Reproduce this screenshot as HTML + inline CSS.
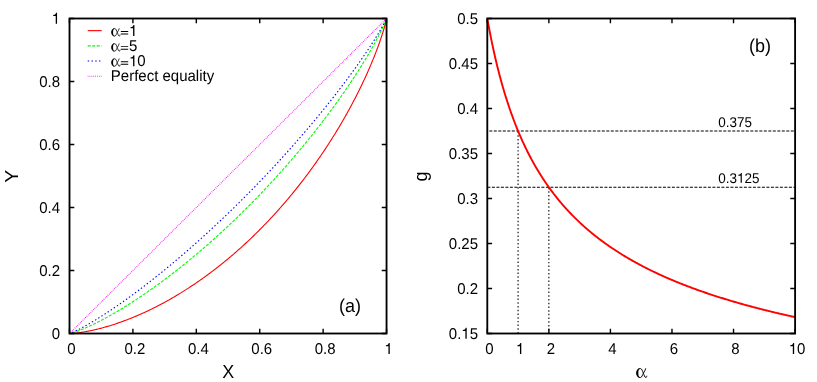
<!DOCTYPE html>
<html><head><meta charset="utf-8"><title>chart</title>
<style>
html,body{margin:0;padding:0;background:#fff;}
svg{display:block;will-change:transform;}
text{font-family:"Liberation Sans",sans-serif;fill:#000;text-rendering:geometricPrecision;}
.t{font-size:15.0px;}
.s{font-size:12.2px;}
.l{font-size:17.6px;}
.sy{font-family:"Liberation Serif",serif;}
</style></head><body>
<svg width="817" height="382" viewBox="0 0 817 382">
<rect width="817" height="382" fill="#fff"/>

<path d="M69.50,333.50 L70.29,333.48 L71.09,333.45 L71.88,333.40 L72.67,333.35 L73.46,333.28 L74.26,333.21 L75.05,333.14 L75.84,333.06 L76.63,332.97 L77.43,332.88 L78.22,332.78 L79.01,332.68 L79.80,332.57 L80.60,332.46 L81.39,332.34 L82.18,332.22 L82.97,332.09 L83.77,331.96 L84.56,331.83 L85.35,331.69 L86.15,331.55 L86.94,331.40 L87.73,331.25 L88.52,331.10 L89.32,330.94 L90.11,330.78 L90.90,330.62 L91.69,330.45 L92.49,330.28 L93.28,330.10 L94.07,329.93 L94.86,329.74 L95.66,329.56 L96.45,329.37 L97.24,329.18 L98.03,328.98 L98.83,328.79 L99.62,328.58 L100.41,328.38 L101.20,328.17 L102.00,327.96 L102.79,327.75 L103.58,327.53 L104.38,327.31 L105.17,327.09 L105.96,326.86 L106.75,326.63 L107.55,326.40 L108.34,326.16 L109.13,325.92 L109.92,325.68 L110.72,325.44 L111.51,325.19 L112.30,324.94 L113.09,324.69 L113.89,324.43 L114.68,324.17 L115.47,323.91 L116.26,323.65 L117.06,323.38 L117.85,323.11 L118.64,322.83 L119.44,322.56 L120.23,322.28 L121.02,322.00 L121.81,321.71 L122.61,321.43 L123.40,321.14 L124.19,320.84 L124.98,320.55 L125.78,320.25 L126.57,319.95 L127.36,319.64 L128.15,319.34 L128.95,319.03 L129.74,318.71 L130.53,318.40 L131.32,318.08 L132.12,317.76 L132.91,317.44 L133.70,317.11 L134.50,316.78 L135.29,316.45 L136.08,316.12 L136.87,315.78 L137.67,315.44 L138.46,315.10 L139.25,314.75 L140.04,314.41 L140.84,314.06 L141.63,313.70 L142.42,313.35 L143.21,312.99 L144.01,312.63 L144.80,312.26 L145.59,311.90 L146.38,311.53 L147.18,311.16 L147.97,310.78 L148.76,310.40 L149.56,310.02 L150.35,309.64 L151.14,309.26 L151.93,308.87 L152.73,308.48 L153.52,308.09 L154.31,307.69 L155.10,307.29 L155.90,306.89 L156.69,306.49 L157.48,306.08 L158.27,305.67 L159.07,305.26 L159.86,304.84 L160.65,304.43 L161.44,304.01 L162.24,303.58 L163.03,303.16 L163.82,302.73 L164.62,302.30 L165.41,301.87 L166.20,301.43 L166.99,300.99 L167.79,300.55 L168.58,300.11 L169.37,299.66 L170.16,299.21 L170.96,298.76 L171.75,298.30 L172.54,297.84 L173.33,297.38 L174.13,296.92 L174.92,296.45 L175.71,295.99 L176.50,295.51 L177.30,295.04 L178.09,294.56 L178.88,294.08 L179.67,293.60 L180.47,293.12 L181.26,292.63 L182.05,292.14 L182.85,291.65 L183.64,291.15 L184.43,290.65 L185.22,290.15 L186.02,289.65 L186.81,289.14 L187.60,288.63 L188.39,288.12 L189.19,287.60 L189.98,287.08 L190.77,286.56 L191.56,286.04 L192.36,285.51 L193.15,284.98 L193.94,284.45 L194.73,283.92 L195.53,283.38 L196.32,282.84 L197.11,282.29 L197.91,281.75 L198.70,281.20 L199.49,280.65 L200.28,280.09 L201.08,279.53 L201.87,278.97 L202.66,278.41 L203.45,277.84 L204.25,277.28 L205.04,276.70 L205.83,276.13 L206.62,275.55 L207.42,274.97 L208.21,274.39 L209.00,273.80 L209.79,273.21 L210.59,272.62 L211.38,272.02 L212.17,271.42 L212.97,270.82 L213.76,270.22 L214.55,269.61 L215.34,269.00 L216.14,268.39 L216.93,267.77 L217.72,267.15 L218.51,266.53 L219.31,265.90 L220.10,265.28 L220.89,264.64 L221.68,264.01 L222.48,263.37 L223.27,262.73 L224.06,262.09 L224.85,261.44 L225.65,260.79 L226.44,260.14 L227.23,259.48 L228.03,258.82 L228.82,258.16 L229.61,257.49 L230.40,256.83 L231.20,256.15 L231.99,255.48 L232.78,254.80 L233.57,254.12 L234.37,253.43 L235.16,252.75 L235.95,252.05 L236.74,251.36 L237.54,250.66 L238.33,249.96 L239.12,249.26 L239.91,248.55 L240.71,247.84 L241.50,247.13 L242.29,246.41 L243.08,245.69 L243.88,244.96 L244.67,244.23 L245.46,243.50 L246.26,242.77 L247.05,242.03 L247.84,241.29 L248.63,240.55 L249.43,239.80 L250.22,239.05 L251.01,238.29 L251.80,237.53 L252.60,236.77 L253.39,236.00 L254.18,235.24 L254.97,234.46 L255.77,233.69 L256.56,232.91 L257.35,232.12 L258.14,231.34 L258.94,230.55 L259.73,229.75 L260.52,228.95 L261.32,228.15 L262.11,227.35 L262.90,226.54 L263.69,225.72 L264.49,224.91 L265.28,224.09 L266.07,223.26 L266.86,222.43 L267.66,221.60 L268.45,220.77 L269.24,219.93 L270.03,219.08 L270.83,218.23 L271.62,217.38 L272.41,216.53 L273.20,215.67 L274.00,214.80 L274.79,213.94 L275.58,213.06 L276.38,212.19 L277.17,211.31 L277.96,210.43 L278.75,209.54 L279.55,208.64 L280.34,207.75 L281.13,206.85 L281.92,205.94 L282.72,205.03 L283.51,204.12 L284.30,203.20 L285.09,202.28 L285.89,201.35 L286.68,200.42 L287.47,199.49 L288.26,198.55 L289.06,197.60 L289.85,196.65 L290.64,195.70 L291.44,194.74 L292.23,193.78 L293.02,192.81 L293.81,191.84 L294.61,190.86 L295.40,189.88 L296.19,188.89 L296.98,187.90 L297.78,186.91 L298.57,185.91 L299.36,184.90 L300.15,183.89 L300.95,182.87 L301.74,181.85 L302.53,180.83 L303.32,179.80 L304.12,178.76 L304.91,177.72 L305.70,176.67 L306.49,175.62 L307.29,174.56 L308.08,173.50 L308.87,172.43 L309.67,171.36 L310.46,170.28 L311.25,169.19 L312.04,168.10 L312.84,167.00 L313.63,165.90 L314.42,164.79 L315.21,163.68 L316.01,162.56 L316.80,161.43 L317.59,160.30 L318.38,159.17 L319.18,158.02 L319.97,156.87 L320.76,155.71 L321.55,154.55 L322.35,153.38 L323.14,152.21 L323.93,151.02 L324.73,149.84 L325.52,148.64 L326.31,147.44 L327.10,146.23 L327.90,145.01 L328.69,143.79 L329.48,142.56 L330.27,141.32 L331.07,140.08 L331.86,138.82 L332.65,137.56 L333.44,136.30 L334.24,135.02 L335.03,133.74 L335.82,132.45 L336.61,131.15 L337.41,129.84 L338.20,128.53 L338.99,127.20 L339.79,125.87 L340.58,124.53 L341.37,123.18 L342.16,121.82 L342.96,120.45 L343.75,119.08 L344.54,117.69 L345.33,116.29 L346.13,114.89 L346.92,113.47 L347.71,112.05 L348.50,110.61 L349.30,109.17 L350.09,107.71 L350.88,106.24 L351.67,104.76 L352.47,103.27 L353.26,101.77 L354.05,100.26 L354.85,98.73 L355.64,97.20 L356.43,95.65 L357.22,94.08 L358.02,92.51 L358.81,90.92 L359.60,89.31 L360.39,87.69 L361.19,86.06 L361.98,84.41 L362.77,82.74 L363.56,81.06 L364.36,79.37 L365.15,77.65 L365.94,75.92 L366.73,74.17 L367.53,72.40 L368.32,70.61 L369.11,68.79 L369.90,66.96 L370.70,65.10 L371.49,63.22 L372.28,61.32 L373.08,59.39 L373.87,57.43 L374.66,55.44 L375.45,53.42 L376.25,51.37 L377.04,49.28 L377.83,47.15 L378.62,44.98 L379.42,42.76 L380.21,40.49 L381.00,38.16 L381.79,35.77 L382.59,33.30 L383.38,30.74 L384.17,28.06 L384.96,25.23 L385.76,22.17 L386.55,18.50" fill="none" stroke="#f00" stroke-width="1.1"/>
<path d="M69.50,333.50 L70.29,333.35 L71.09,333.16 L71.88,332.95 L72.67,332.73 L73.46,332.49 L74.26,332.23 L75.05,331.97 L75.84,331.70 L76.63,331.42 L77.43,331.14 L78.22,330.85 L79.01,330.55 L79.80,330.24 L80.60,329.93 L81.39,329.62 L82.18,329.29 L82.97,328.97 L83.77,328.64 L84.56,328.30 L85.35,327.96 L86.15,327.61 L86.94,327.27 L87.73,326.91 L88.52,326.55 L89.32,326.19 L90.11,325.83 L90.90,325.46 L91.69,325.08 L92.49,324.71 L93.28,324.33 L94.07,323.94 L94.86,323.56 L95.66,323.17 L96.45,322.77 L97.24,322.38 L98.03,321.98 L98.83,321.57 L99.62,321.17 L100.41,320.76 L101.20,320.35 L102.00,319.93 L102.79,319.51 L103.58,319.09 L104.38,318.67 L105.17,318.24 L105.96,317.81 L106.75,317.38 L107.55,316.95 L108.34,316.51 L109.13,316.07 L109.92,315.62 L110.72,315.18 L111.51,314.73 L112.30,314.28 L113.09,313.83 L113.89,313.37 L114.68,312.91 L115.47,312.45 L116.26,311.99 L117.06,311.52 L117.85,311.06 L118.64,310.59 L119.44,310.11 L120.23,309.64 L121.02,309.16 L121.81,308.68 L122.61,308.20 L123.40,307.71 L124.19,307.23 L124.98,306.74 L125.78,306.25 L126.57,305.75 L127.36,305.26 L128.15,304.76 L128.95,304.26 L129.74,303.75 L130.53,303.25 L131.32,302.74 L132.12,302.23 L132.91,301.72 L133.70,301.21 L134.50,300.69 L135.29,300.18 L136.08,299.66 L136.87,299.13 L137.67,298.61 L138.46,298.08 L139.25,297.56 L140.04,297.03 L140.84,296.49 L141.63,295.96 L142.42,295.42 L143.21,294.88 L144.01,294.34 L144.80,293.80 L145.59,293.26 L146.38,292.71 L147.18,292.16 L147.97,291.61 L148.76,291.06 L149.56,290.50 L150.35,289.95 L151.14,289.39 L151.93,288.83 L152.73,288.26 L153.52,287.70 L154.31,287.13 L155.10,286.56 L155.90,285.99 L156.69,285.42 L157.48,284.85 L158.27,284.27 L159.07,283.69 L159.86,283.11 L160.65,282.53 L161.44,281.94 L162.24,281.36 L163.03,280.77 L163.82,280.18 L164.62,279.59 L165.41,278.99 L166.20,278.40 L166.99,277.80 L167.79,277.20 L168.58,276.60 L169.37,276.00 L170.16,275.39 L170.96,274.78 L171.75,274.17 L172.54,273.56 L173.33,272.95 L174.13,272.34 L174.92,271.72 L175.71,271.10 L176.50,270.48 L177.30,269.86 L178.09,269.23 L178.88,268.61 L179.67,267.98 L180.47,267.35 L181.26,266.72 L182.05,266.08 L182.85,265.45 L183.64,264.81 L184.43,264.17 L185.22,263.53 L186.02,262.89 L186.81,262.24 L187.60,261.60 L188.39,260.95 L189.19,260.30 L189.98,259.65 L190.77,258.99 L191.56,258.34 L192.36,257.68 L193.15,257.02 L193.94,256.36 L194.73,255.69 L195.53,255.03 L196.32,254.36 L197.11,253.69 L197.91,253.02 L198.70,252.35 L199.49,251.67 L200.28,251.00 L201.08,250.32 L201.87,249.64 L202.66,248.95 L203.45,248.27 L204.25,247.58 L205.04,246.90 L205.83,246.21 L206.62,245.52 L207.42,244.82 L208.21,244.13 L209.00,243.43 L209.79,242.73 L210.59,242.03 L211.38,241.33 L212.17,240.62 L212.97,239.91 L213.76,239.21 L214.55,238.49 L215.34,237.78 L216.14,237.07 L216.93,236.35 L217.72,235.63 L218.51,234.91 L219.31,234.19 L220.10,233.47 L220.89,232.74 L221.68,232.01 L222.48,231.28 L223.27,230.55 L224.06,229.82 L224.85,229.08 L225.65,228.35 L226.44,227.61 L227.23,226.87 L228.03,226.12 L228.82,225.38 L229.61,224.63 L230.40,223.88 L231.20,223.13 L231.99,222.38 L232.78,221.62 L233.57,220.86 L234.37,220.11 L235.16,219.35 L235.95,218.58 L236.74,217.82 L237.54,217.05 L238.33,216.28 L239.12,215.51 L239.91,214.74 L240.71,213.96 L241.50,213.19 L242.29,212.41 L243.08,211.63 L243.88,210.84 L244.67,210.06 L245.46,209.27 L246.26,208.48 L247.05,207.69 L247.84,206.90 L248.63,206.10 L249.43,205.31 L250.22,204.51 L251.01,203.70 L251.80,202.90 L252.60,202.10 L253.39,201.29 L254.18,200.48 L254.97,199.67 L255.77,198.85 L256.56,198.04 L257.35,197.22 L258.14,196.40 L258.94,195.57 L259.73,194.75 L260.52,193.92 L261.32,193.09 L262.11,192.26 L262.90,191.43 L263.69,190.59 L264.49,189.76 L265.28,188.92 L266.07,188.07 L266.86,187.23 L267.66,186.38 L268.45,185.53 L269.24,184.68 L270.03,183.83 L270.83,182.97 L271.62,182.12 L272.41,181.25 L273.20,180.39 L274.00,179.53 L274.79,178.66 L275.58,177.79 L276.38,176.92 L277.17,176.05 L277.96,175.17 L278.75,174.29 L279.55,173.41 L280.34,172.53 L281.13,171.64 L281.92,170.75 L282.72,169.86 L283.51,168.97 L284.30,168.07 L285.09,167.17 L285.89,166.27 L286.68,165.37 L287.47,164.46 L288.26,163.56 L289.06,162.65 L289.85,161.73 L290.64,160.82 L291.44,159.90 L292.23,158.98 L293.02,158.05 L293.81,157.13 L294.61,156.20 L295.40,155.27 L296.19,154.33 L296.98,153.40 L297.78,152.46 L298.57,151.52 L299.36,150.57 L300.15,149.63 L300.95,148.68 L301.74,147.72 L302.53,146.77 L303.32,145.81 L304.12,144.85 L304.91,143.88 L305.70,142.92 L306.49,141.95 L307.29,140.97 L308.08,140.00 L308.87,139.02 L309.67,138.04 L310.46,137.05 L311.25,136.07 L312.04,135.07 L312.84,134.08 L313.63,133.08 L314.42,132.08 L315.21,131.08 L316.01,130.07 L316.80,129.07 L317.59,128.05 L318.38,127.04 L319.18,126.02 L319.97,125.00 L320.76,123.97 L321.55,122.94 L322.35,121.91 L323.14,120.87 L323.93,119.83 L324.73,118.79 L325.52,117.74 L326.31,116.69 L327.10,115.64 L327.90,114.58 L328.69,113.52 L329.48,112.46 L330.27,111.39 L331.07,110.32 L331.86,109.24 L332.65,108.16 L333.44,107.08 L334.24,105.99 L335.03,104.90 L335.82,103.80 L336.61,102.70 L337.41,101.60 L338.20,100.49 L338.99,99.38 L339.79,98.26 L340.58,97.14 L341.37,96.01 L342.16,94.88 L342.96,93.75 L343.75,92.61 L344.54,91.46 L345.33,90.31 L346.13,89.16 L346.92,88.00 L347.71,86.83 L348.50,85.66 L349.30,84.49 L350.09,83.31 L350.88,82.12 L351.67,80.93 L352.47,79.74 L353.26,78.53 L354.05,77.33 L354.85,76.11 L355.64,74.89 L356.43,73.66 L357.22,72.43 L358.02,71.19 L358.81,69.95 L359.60,68.69 L360.39,67.43 L361.19,66.16 L361.98,64.89 L362.77,63.61 L363.56,62.32 L364.36,61.02 L365.15,59.71 L365.94,58.40 L366.73,57.07 L367.53,55.74 L368.32,54.40 L369.11,53.04 L369.90,51.68 L370.70,50.30 L371.49,48.92 L372.28,47.52 L373.08,46.11 L373.87,44.69 L374.66,43.25 L375.45,41.80 L376.25,40.33 L377.04,38.85 L377.83,37.35 L378.62,35.83 L379.42,34.28 L380.21,32.72 L381.00,31.13 L381.79,29.50 L382.59,27.85 L383.38,26.15 L384.17,24.40 L384.96,22.59 L385.76,20.67 L386.55,18.50" fill="none" stroke="#0f0" stroke-width="1.12" stroke-dasharray="3.07 1.385" stroke-dashoffset="-3.0"/>
<path d="M69.50,333.50 L70.29,333.25 L71.09,332.95 L71.88,332.63 L72.67,332.30 L73.46,331.95 L74.26,331.59 L75.05,331.23 L75.84,330.85 L76.63,330.47 L77.43,330.08 L78.22,329.68 L79.01,329.28 L79.80,328.87 L80.60,328.46 L81.39,328.04 L82.18,327.62 L82.97,327.19 L83.77,326.76 L84.56,326.32 L85.35,325.88 L86.15,325.44 L86.94,324.99 L87.73,324.54 L88.52,324.09 L89.32,323.63 L90.11,323.17 L90.90,322.70 L91.69,322.24 L92.49,321.77 L93.28,321.29 L94.07,320.82 L94.86,320.34 L95.66,319.85 L96.45,319.37 L97.24,318.88 L98.03,318.39 L98.83,317.89 L99.62,317.40 L100.41,316.90 L101.20,316.40 L102.00,315.89 L102.79,315.39 L103.58,314.88 L104.38,314.37 L105.17,313.85 L105.96,313.34 L106.75,312.82 L107.55,312.30 L108.34,311.78 L109.13,311.25 L109.92,310.73 L110.72,310.20 L111.51,309.66 L112.30,309.13 L113.09,308.60 L113.89,308.06 L114.68,307.52 L115.47,306.98 L116.26,306.43 L117.06,305.89 L117.85,305.34 L118.64,304.79 L119.44,304.24 L120.23,303.68 L121.02,303.13 L121.81,302.57 L122.61,302.01 L123.40,301.45 L124.19,300.88 L124.98,300.32 L125.78,299.75 L126.57,299.18 L127.36,298.61 L128.15,298.04 L128.95,297.47 L129.74,296.89 L130.53,296.31 L131.32,295.73 L132.12,295.15 L132.91,294.57 L133.70,293.98 L134.50,293.40 L135.29,292.81 L136.08,292.22 L136.87,291.63 L137.67,291.03 L138.46,290.44 L139.25,289.84 L140.04,289.24 L140.84,288.64 L141.63,288.04 L142.42,287.44 L143.21,286.83 L144.01,286.23 L144.80,285.62 L145.59,285.01 L146.38,284.40 L147.18,283.78 L147.97,283.17 L148.76,282.55 L149.56,281.94 L150.35,281.32 L151.14,280.69 L151.93,280.07 L152.73,279.45 L153.52,278.82 L154.31,278.19 L155.10,277.57 L155.90,276.94 L156.69,276.30 L157.48,275.67 L158.27,275.04 L159.07,274.40 L159.86,273.76 L160.65,273.12 L161.44,272.48 L162.24,271.84 L163.03,271.19 L163.82,270.55 L164.62,269.90 L165.41,269.25 L166.20,268.60 L166.99,267.95 L167.79,267.30 L168.58,266.64 L169.37,265.99 L170.16,265.33 L170.96,264.67 L171.75,264.01 L172.54,263.35 L173.33,262.68 L174.13,262.02 L174.92,261.35 L175.71,260.68 L176.50,260.01 L177.30,259.34 L178.09,258.67 L178.88,258.00 L179.67,257.32 L180.47,256.65 L181.26,255.97 L182.05,255.29 L182.85,254.61 L183.64,253.92 L184.43,253.24 L185.22,252.55 L186.02,251.87 L186.81,251.18 L187.60,250.49 L188.39,249.80 L189.19,249.11 L189.98,248.41 L190.77,247.72 L191.56,247.02 L192.36,246.32 L193.15,245.62 L193.94,244.92 L194.73,244.22 L195.53,243.51 L196.32,242.81 L197.11,242.10 L197.91,241.39 L198.70,240.68 L199.49,239.97 L200.28,239.26 L201.08,238.55 L201.87,237.83 L202.66,237.11 L203.45,236.39 L204.25,235.67 L205.04,234.95 L205.83,234.23 L206.62,233.51 L207.42,232.78 L208.21,232.05 L209.00,231.33 L209.79,230.60 L210.59,229.86 L211.38,229.13 L212.17,228.40 L212.97,227.66 L213.76,226.93 L214.55,226.19 L215.34,225.45 L216.14,224.71 L216.93,223.96 L217.72,223.22 L218.51,222.47 L219.31,221.73 L220.10,220.98 L220.89,220.23 L221.68,219.48 L222.48,218.72 L223.27,217.97 L224.06,217.21 L224.85,216.46 L225.65,215.70 L226.44,214.94 L227.23,214.18 L228.03,213.41 L228.82,212.65 L229.61,211.88 L230.40,211.12 L231.20,210.35 L231.99,209.58 L232.78,208.80 L233.57,208.03 L234.37,207.26 L235.16,206.48 L235.95,205.70 L236.74,204.92 L237.54,204.14 L238.33,203.36 L239.12,202.58 L239.91,201.79 L240.71,201.00 L241.50,200.22 L242.29,199.43 L243.08,198.64 L243.88,197.84 L244.67,197.05 L245.46,196.25 L246.26,195.46 L247.05,194.66 L247.84,193.86 L248.63,193.05 L249.43,192.25 L250.22,191.45 L251.01,190.64 L251.80,189.83 L252.60,189.02 L253.39,188.21 L254.18,187.40 L254.97,186.58 L255.77,185.77 L256.56,184.95 L257.35,184.13 L258.14,183.31 L258.94,182.49 L259.73,181.67 L260.52,180.84 L261.32,180.01 L262.11,179.19 L262.90,178.36 L263.69,177.52 L264.49,176.69 L265.28,175.86 L266.07,175.02 L266.86,174.18 L267.66,173.34 L268.45,172.50 L269.24,171.66 L270.03,170.81 L270.83,169.97 L271.62,169.12 L272.41,168.27 L273.20,167.42 L274.00,166.57 L274.79,165.71 L275.58,164.85 L276.38,164.00 L277.17,163.14 L277.96,162.27 L278.75,161.41 L279.55,160.55 L280.34,159.68 L281.13,158.81 L281.92,157.94 L282.72,157.07 L283.51,156.20 L284.30,155.32 L285.09,154.44 L285.89,153.56 L286.68,152.68 L287.47,151.80 L288.26,150.92 L289.06,150.03 L289.85,149.14 L290.64,148.25 L291.44,147.36 L292.23,146.47 L293.02,145.57 L293.81,144.67 L294.61,143.77 L295.40,142.87 L296.19,141.97 L296.98,141.07 L297.78,140.16 L298.57,139.25 L299.36,138.34 L300.15,137.43 L300.95,136.51 L301.74,135.59 L302.53,134.68 L303.32,133.75 L304.12,132.83 L304.91,131.91 L305.70,130.98 L306.49,130.05 L307.29,129.12 L308.08,128.19 L308.87,127.25 L309.67,126.31 L310.46,125.38 L311.25,124.43 L312.04,123.49 L312.84,122.54 L313.63,121.60 L314.42,120.64 L315.21,119.69 L316.01,118.74 L316.80,117.78 L317.59,116.82 L318.38,115.86 L319.18,114.89 L319.97,113.93 L320.76,112.96 L321.55,111.99 L322.35,111.01 L323.14,110.04 L323.93,109.06 L324.73,108.08 L325.52,107.10 L326.31,106.11 L327.10,105.12 L327.90,104.13 L328.69,103.14 L329.48,102.14 L330.27,101.14 L331.07,100.14 L331.86,99.14 L332.65,98.13 L333.44,97.12 L334.24,96.11 L335.03,95.09 L335.82,94.07 L336.61,93.05 L337.41,92.03 L338.20,91.00 L338.99,89.97 L339.79,88.94 L340.58,87.90 L341.37,86.86 L342.16,85.82 L342.96,84.77 L343.75,83.72 L344.54,82.67 L345.33,81.61 L346.13,80.55 L346.92,79.49 L347.71,78.43 L348.50,77.36 L349.30,76.28 L350.09,75.21 L350.88,74.12 L351.67,73.04 L352.47,71.95 L353.26,70.86 L354.05,69.76 L354.85,68.66 L355.64,67.56 L356.43,66.45 L357.22,65.33 L358.02,64.21 L358.81,63.09 L359.60,61.96 L360.39,60.83 L361.19,59.69 L361.98,58.55 L362.77,57.40 L363.56,56.25 L364.36,55.09 L365.15,53.93 L365.94,52.76 L366.73,51.58 L367.53,50.40 L368.32,49.21 L369.11,48.01 L369.90,46.81 L370.70,45.60 L371.49,44.38 L372.28,43.15 L373.08,41.92 L373.87,40.67 L374.66,39.42 L375.45,38.16 L376.25,36.89 L377.04,35.60 L377.83,34.30 L378.62,32.99 L379.42,31.67 L380.21,30.33 L381.00,28.97 L381.79,27.60 L382.59,26.20 L383.38,24.77 L384.17,23.31 L384.96,21.81 L385.76,20.24 L386.55,18.50" fill="none" stroke="#00f" stroke-width="1.1" stroke-dasharray="1.45 2.262" stroke-dashoffset="-2.9"/>
<path d="M69.50,333.50 L386.55,18.50" fill="none" stroke="#f0f" stroke-width="1.15" stroke-dasharray="0.7425 1.114"/>
<path d="M69.50,333.5 v-4.8 M69.50,18.5 v4.8 M69.5,333.50 h4.8 M386.55,333.50 h-4.8 M132.91,333.5 v-4.8 M132.91,18.5 v4.8 M69.5,270.50 h4.8 M386.55,270.50 h-4.8 M196.32,333.5 v-4.8 M196.32,18.5 v4.8 M69.5,207.50 h4.8 M386.55,207.50 h-4.8 M259.73,333.5 v-4.8 M259.73,18.5 v4.8 M69.5,144.50 h4.8 M386.55,144.50 h-4.8 M323.14,333.5 v-4.8 M323.14,18.5 v4.8 M69.5,81.50 h4.8 M386.55,81.50 h-4.8 M386.55,333.5 v-4.8 M386.55,18.5 v4.8 M69.5,18.50 h4.8 M386.55,18.50 h-4.8" fill="none" stroke="#000" stroke-width="1.4"/>
<rect x="69.5" y="18.5" width="317.05" height="315.00" fill="none" stroke="#000" stroke-width="1.85"/>
<text transform="translate(71.50,354.00) scale(1,1.045)" font-size="15.0" text-anchor="middle">0</text>
<text transform="translate(60.00,338.80) scale(1,1.045)" font-size="15.0" text-anchor="end">0</text>
<text transform="translate(134.91,354.00) scale(1,1.045)" font-size="15.0" text-anchor="middle">0.2</text>
<text transform="translate(60.00,275.80) scale(1,1.045)" font-size="15.0" text-anchor="end">0.2</text>
<text transform="translate(198.32,354.00) scale(1,1.045)" font-size="15.0" text-anchor="middle">0.4</text>
<text transform="translate(60.00,212.80) scale(1,1.045)" font-size="15.0" text-anchor="end">0.4</text>
<text transform="translate(261.73,354.00) scale(1,1.045)" font-size="15.0" text-anchor="middle">0.6</text>
<text transform="translate(60.00,149.80) scale(1,1.045)" font-size="15.0" text-anchor="end">0.6</text>
<text transform="translate(325.14,354.00) scale(1,1.045)" font-size="15.0" text-anchor="middle">0.8</text>
<text transform="translate(60.00,86.80) scale(1,1.045)" font-size="15.0" text-anchor="end">0.8</text>
<g transform="translate(388.55,354.00) scale(1,1.045)">
<path d="M359,0 L271,0 L271,501 L101,501 L101,566 Q190,574 228,598 Q273,627 294,703 L359,703 Z" transform="translate(-4.17,0) scale(0.01500,-0.01500)" fill="#000"/>
</g>
<g transform="translate(60.00,23.80) scale(1,1.045)">
<path d="M359,0 L271,0 L271,501 L101,501 L101,566 Q190,574 228,598 Q273,627 294,703 L359,703 Z" transform="translate(-8.34,0) scale(0.01500,-0.01500)" fill="#000"/>
</g>
<text transform="translate(228.20,377.60) scale(1,1.045)" font-size="18.0" text-anchor="middle">X</text>
<text transform="translate(17.80,176.20) rotate(-90) scale(1.08,1.045)" font-size="18.0" text-anchor="middle">Y</text>
<text transform="translate(350.00,311.60) scale(1,1.045)" font-size="18.0" text-anchor="middle">(a)</text>
<path d="M87.7,30.65 H101.7" stroke="#f00" stroke-width="1.12" fill="none"/>
<g transform="translate(110.80,36.10) scale(1,1.045)">
<g transform="translate(0.00,0) scale(0.01500,-0.01500)"><path d="M562,492 C545,410 490,320 430,235 C380,160 350,2 265,2 C145,2 66,100 66,240 C66,390 145,480 265,480 C350,480 385,330 430,235 C470,150 500,4 570,4 C600,4 614,40 622,98" fill="none" stroke="#000" stroke-width="52" stroke-linecap="butt"/><path d="M265,-22 C125,-22 40,100 40,240 C40,390 125,504 265,504 C185,462 150,380 150,240 C150,100 185,20 265,-22 Z" fill="#000"/></g>
<path d="M40,100 H530 V160 H40 Z M40,262 H530 V322 H40 Z" transform="translate(9.46,0) scale(0.01500,-0.01500)" fill="#000"/>
<path d="M359,0 L271,0 L271,501 L101,501 L101,566 Q190,574 228,598 Q273,627 294,703 L359,703 Z" transform="translate(18.23,0) scale(0.01500,-0.01500)" fill="#000"/>
</g>
<path d="M87.7,45.85 H101.7" stroke="#0f0" stroke-width="1.12" fill="none" stroke-dasharray="3 1.5"/>
<g transform="translate(110.80,51.20) scale(1,1.045)">
<g transform="translate(0.00,0) scale(0.01500,-0.01500)"><path d="M562,492 C545,410 490,320 430,235 C380,160 350,2 265,2 C145,2 66,100 66,240 C66,390 145,480 265,480 C350,480 385,330 430,235 C470,150 500,4 570,4 C600,4 614,40 622,98" fill="none" stroke="#000" stroke-width="52" stroke-linecap="butt"/><path d="M265,-22 C125,-22 40,100 40,240 C40,390 125,504 265,504 C185,462 150,380 150,240 C150,100 185,20 265,-22 Z" fill="#000"/></g>
<path d="M40,100 H530 V160 H40 Z M40,262 H530 V322 H40 Z" transform="translate(9.46,0) scale(0.01500,-0.01500)" fill="#000"/>
<text x="18.23" y="0" font-size="15.0">5</text>
</g>
<path d="M87.7,61.05 H101.7" stroke="#00f" stroke-width="1.12" fill="none" stroke-dasharray="1.5 2.25"/>
<g transform="translate(110.80,66.30) scale(1,1.045)">
<g transform="translate(0.00,0) scale(0.01500,-0.01500)"><path d="M562,492 C545,410 490,320 430,235 C380,160 350,2 265,2 C145,2 66,100 66,240 C66,390 145,480 265,480 C350,480 385,330 430,235 C470,150 500,4 570,4 C600,4 614,40 622,98" fill="none" stroke="#000" stroke-width="52" stroke-linecap="butt"/><path d="M265,-22 C125,-22 40,100 40,240 C40,390 125,504 265,504 C185,462 150,380 150,240 C150,100 185,20 265,-22 Z" fill="#000"/></g>
<path d="M40,100 H530 V160 H40 Z M40,262 H530 V322 H40 Z" transform="translate(9.46,0) scale(0.01500,-0.01500)" fill="#000"/>
<path d="M359,0 L271,0 L271,501 L101,501 L101,566 Q190,574 228,598 Q273,627 294,703 L359,703 Z" transform="translate(18.23,0) scale(0.01500,-0.01500)" fill="#000"/>
<text x="26.57" y="0" font-size="15.0">0</text>
</g>
<path d="M87.7,76.25 H101.7" stroke="#f0f" stroke-width="1.12" fill="none" stroke-dasharray="0.75 1.125"/>
<text transform="translate(110.80,81.40) scale(1,1.045)" font-size="15.0" text-anchor="start">Perfect equality</text>
<path d="M487.3,131.00 H795.1" stroke="#000" stroke-width="1.05" fill="none" stroke-dasharray="3 1.5" stroke-dashoffset="-2"/>
<path d="M487.3,187.25 H795.1" stroke="#000" stroke-width="1.05" fill="none" stroke-dasharray="3 1.5" stroke-dashoffset="-0.1"/>
<path d="M518.08,333.5 V131.00" stroke="#000" stroke-width="1.1" fill="none" stroke-dasharray="1.485 2.227" stroke-dashoffset="0"/>
<path d="M548.86,333.5 V187.25" stroke="#000" stroke-width="1.1" fill="none" stroke-dasharray="1.485 2.227" stroke-dashoffset="0.4"/>
<path d="M487.30,18.50 L488.07,22.80 L488.84,26.97 L489.61,31.04 L490.39,34.99 L491.16,38.84 L491.93,42.60 L492.70,46.25 L493.47,49.82 L494.24,53.30 L495.01,56.69 L495.79,60.01 L496.56,63.24 L497.33,66.41 L498.10,69.49 L498.87,72.52 L499.64,75.47 L500.41,78.36 L501.19,81.19 L501.96,83.95 L502.73,86.66 L503.50,89.32 L504.27,91.92 L505.04,94.46 L505.81,96.96 L506.59,99.41 L507.36,101.81 L508.13,104.16 L508.90,106.47 L509.67,108.74 L510.44,110.97 L511.21,113.15 L511.99,115.30 L512.76,117.41 L513.53,119.48 L514.30,121.51 L515.07,123.51 L515.84,125.48 L516.61,127.41 L517.39,129.32 L518.16,131.19 L518.93,133.03 L519.70,134.84 L520.47,136.62 L521.24,138.37 L522.01,140.10 L522.79,141.80 L523.56,143.47 L524.33,145.12 L525.10,146.74 L525.87,148.34 L526.64,149.92 L527.41,151.47 L528.19,153.00 L528.96,154.51 L529.73,156.00 L530.50,157.46 L531.27,158.91 L532.04,160.33 L532.81,161.74 L533.59,163.13 L534.36,164.50 L535.13,165.85 L535.90,167.18 L536.67,168.50 L537.44,169.80 L538.21,171.08 L538.99,172.35 L539.76,173.60 L540.53,174.83 L541.30,176.05 L542.07,177.26 L542.84,178.44 L543.61,179.62 L544.39,180.78 L545.16,181.93 L545.93,183.06 L546.70,184.18 L547.47,185.29 L548.24,186.38 L549.01,187.47 L549.79,188.54 L550.56,189.59 L551.33,190.64 L552.10,191.67 L552.87,192.69 L553.64,193.71 L554.41,194.71 L555.19,195.70 L555.96,196.68 L556.73,197.64 L557.50,198.60 L558.27,199.55 L559.04,200.49 L559.81,201.42 L560.59,202.34 L561.36,203.25 L562.13,204.15 L562.90,205.04 L563.67,205.92 L564.44,206.79 L565.21,207.66 L565.99,208.52 L566.76,209.36 L567.53,210.20 L568.30,211.04 L569.07,211.86 L569.84,212.68 L570.61,213.48 L571.39,214.28 L572.16,215.08 L572.93,215.86 L573.70,216.64 L574.47,217.41 L575.24,218.18 L576.01,218.94 L576.79,219.69 L577.56,220.43 L578.33,221.17 L579.10,221.90 L579.87,222.62 L580.64,223.34 L581.41,224.05 L582.19,224.76 L582.96,225.46 L583.73,226.15 L584.50,226.84 L585.27,227.52 L586.04,228.20 L586.81,228.87 L587.59,229.53 L588.36,230.19 L589.13,230.85 L589.90,231.50 L590.67,232.14 L591.44,232.78 L592.21,233.41 L592.99,234.04 L593.76,234.66 L594.53,235.28 L595.30,235.89 L596.07,236.50 L596.84,237.11 L597.61,237.70 L598.39,238.30 L599.16,238.89 L599.93,239.47 L600.70,240.05 L601.47,240.63 L602.24,241.20 L603.01,241.77 L603.79,242.34 L604.56,242.89 L605.33,243.45 L606.10,244.00 L606.87,244.55 L607.64,245.09 L608.41,245.63 L609.19,246.17 L609.96,246.70 L610.73,247.23 L611.50,247.75 L612.27,248.27 L613.04,248.79 L613.81,249.30 L614.59,249.81 L615.36,250.32 L616.13,250.82 L616.90,251.32 L617.67,251.81 L618.44,252.31 L619.21,252.79 L619.99,253.28 L620.76,253.76 L621.53,254.24 L622.30,254.72 L623.07,255.19 L623.84,255.66 L624.61,256.13 L625.39,256.59 L626.16,257.05 L626.93,257.51 L627.70,257.96 L628.47,258.42 L629.24,258.86 L630.01,259.31 L630.79,259.75 L631.56,260.19 L632.33,260.63 L633.10,261.07 L633.87,261.50 L634.64,261.93 L635.41,262.35 L636.19,262.78 L636.96,263.20 L637.73,263.62 L638.50,264.04 L639.27,264.45 L640.04,264.86 L640.81,265.27 L641.59,265.68 L642.36,266.08 L643.13,266.48 L643.90,266.88 L644.67,267.28 L645.44,267.67 L646.21,268.06 L646.99,268.45 L647.76,268.84 L648.53,269.23 L649.30,269.61 L650.07,269.99 L650.84,270.37 L651.61,270.75 L652.39,271.12 L653.16,271.49 L653.93,271.86 L654.70,272.23 L655.47,272.60 L656.24,272.96 L657.01,273.32 L657.79,273.68 L658.56,274.04 L659.33,274.40 L660.10,274.75 L660.87,275.11 L661.64,275.46 L662.41,275.80 L663.19,276.15 L663.96,276.50 L664.73,276.84 L665.50,277.18 L666.27,277.52 L667.04,277.86 L667.81,278.19 L668.59,278.53 L669.36,278.86 L670.13,279.19 L670.90,279.52 L671.67,279.84 L672.44,280.17 L673.21,280.49 L673.99,280.82 L674.76,281.14 L675.53,281.45 L676.30,281.77 L677.07,282.09 L677.84,282.40 L678.61,282.71 L679.39,283.02 L680.16,283.33 L680.93,283.64 L681.70,283.95 L682.47,284.25 L683.24,284.55 L684.01,284.86 L684.79,285.16 L685.56,285.45 L686.33,285.75 L687.10,286.05 L687.87,286.34 L688.64,286.63 L689.41,286.93 L690.19,287.22 L690.96,287.51 L691.73,287.79 L692.50,288.08 L693.27,288.36 L694.04,288.65 L694.81,288.93 L695.59,289.21 L696.36,289.49 L697.13,289.77 L697.90,290.04 L698.67,290.32 L699.44,290.59 L700.21,290.87 L700.99,291.14 L701.76,291.41 L702.53,291.68 L703.30,291.94 L704.07,292.21 L704.84,292.48 L705.61,292.74 L706.39,293.00 L707.16,293.27 L707.93,293.53 L708.70,293.79 L709.47,294.05 L710.24,294.30 L711.01,294.56 L711.79,294.81 L712.56,295.07 L713.33,295.32 L714.10,295.57 L714.87,295.82 L715.64,296.07 L716.41,296.32 L717.19,296.57 L717.96,296.82 L718.73,297.06 L719.50,297.31 L720.27,297.55 L721.04,297.79 L721.81,298.03 L722.59,298.27 L723.36,298.51 L724.13,298.75 L724.90,298.99 L725.67,299.22 L726.44,299.46 L727.21,299.69 L727.99,299.93 L728.76,300.16 L729.53,300.39 L730.30,300.62 L731.07,300.85 L731.84,301.08 L732.61,301.30 L733.39,301.53 L734.16,301.76 L734.93,301.98 L735.70,302.21 L736.47,302.43 L737.24,302.65 L738.01,302.87 L738.79,303.09 L739.56,303.31 L740.33,303.53 L741.10,303.75 L741.87,303.96 L742.64,304.18 L743.41,304.40 L744.19,304.61 L744.96,304.82 L745.73,305.04 L746.50,305.25 L747.27,305.46 L748.04,305.67 L748.81,305.88 L749.59,306.09 L750.36,306.29 L751.13,306.50 L751.90,306.71 L752.67,306.91 L753.44,307.12 L754.21,307.32 L754.99,307.52 L755.76,307.73 L756.53,307.93 L757.30,308.13 L758.07,308.33 L758.84,308.53 L759.61,308.73 L760.39,308.93 L761.16,309.12 L761.93,309.32 L762.70,309.51 L763.47,309.71 L764.24,309.90 L765.01,310.10 L765.79,310.29 L766.56,310.48 L767.33,310.67 L768.10,310.86 L768.87,311.05 L769.64,311.24 L770.41,311.43 L771.19,311.62 L771.96,311.81 L772.73,311.99 L773.50,312.18 L774.27,312.36 L775.04,312.55 L775.81,312.73 L776.59,312.92 L777.36,313.10 L778.13,313.28 L778.90,313.46 L779.67,313.64 L780.44,313.82 L781.21,314.00 L781.99,314.18 L782.76,314.36 L783.53,314.54 L784.30,314.71 L785.07,314.89 L785.84,315.07 L786.61,315.24 L787.39,315.42 L788.16,315.59 L788.93,315.76 L789.70,315.94 L790.47,316.11 L791.24,316.28 L792.01,316.45 L792.79,316.62 L793.56,316.79 L794.33,316.96 L795.10,317.13" fill="none" stroke="#f00" stroke-width="1.9"/>
<path d="M487.30,333.5 v-4.8 M487.30,18.5 v4.8 M548.86,333.5 v-4.8 M548.86,18.5 v4.8 M610.42,333.5 v-4.8 M610.42,18.5 v4.8 M671.98,333.5 v-4.8 M671.98,18.5 v4.8 M733.54,333.5 v-4.8 M733.54,18.5 v4.8 M795.10,333.5 v-4.8 M795.10,18.5 v4.8 M487.3,333.50 h4.8 M795.1,333.50 h-4.8 M487.3,288.50 h4.8 M795.1,288.50 h-4.8 M487.3,243.50 h4.8 M795.1,243.50 h-4.8 M487.3,198.50 h4.8 M795.1,198.50 h-4.8 M487.3,153.50 h4.8 M795.1,153.50 h-4.8 M487.3,108.50 h4.8 M795.1,108.50 h-4.8 M487.3,63.50 h4.8 M795.1,63.50 h-4.8 M487.3,18.50 h4.8 M795.1,18.50 h-4.8" fill="none" stroke="#000" stroke-width="1.4"/>
<rect x="487.3" y="18.5" width="307.80" height="315.00" fill="none" stroke="#000" stroke-width="1.85"/>
<text transform="translate(489.30,354.00) scale(1,1.045)" font-size="15.0" text-anchor="middle">0</text>
<g transform="translate(520.08,354.00) scale(1,1.045)">
<path d="M359,0 L271,0 L271,501 L101,501 L101,566 Q190,574 228,598 Q273,627 294,703 L359,703 Z" transform="translate(-4.17,0) scale(0.01500,-0.01500)" fill="#000"/>
</g>
<text transform="translate(550.86,354.00) scale(1,1.045)" font-size="15.0" text-anchor="middle">2</text>
<text transform="translate(612.42,354.00) scale(1,1.045)" font-size="15.0" text-anchor="middle">4</text>
<text transform="translate(673.98,354.00) scale(1,1.045)" font-size="15.0" text-anchor="middle">6</text>
<text transform="translate(735.54,354.00) scale(1,1.045)" font-size="15.0" text-anchor="middle">8</text>
<g transform="translate(797.10,354.00) scale(1,1.045)">
<path d="M359,0 L271,0 L271,501 L101,501 L101,566 Q190,574 228,598 Q273,627 294,703 L359,703 Z" transform="translate(-8.34,0) scale(0.01500,-0.01500)" fill="#000"/>
<text x="0.00" y="0" font-size="15.0">0</text>
</g>
<g transform="translate(478.00,338.80) scale(1,1.045)">
<text x="-29.19" y="0" font-size="15.0">0.</text>
<path d="M359,0 L271,0 L271,501 L101,501 L101,566 Q190,574 228,598 Q273,627 294,703 L359,703 Z" transform="translate(-16.68,0) scale(0.01500,-0.01500)" fill="#000"/>
<text x="-8.34" y="0" font-size="15.0">5</text>
</g>
<text transform="translate(478.00,293.80) scale(1,1.045)" font-size="15.0" text-anchor="end">0.2</text>
<text transform="translate(478.00,248.80) scale(1,1.045)" font-size="15.0" text-anchor="end">0.25</text>
<text transform="translate(478.00,203.80) scale(1,1.045)" font-size="15.0" text-anchor="end">0.3</text>
<text transform="translate(478.00,158.80) scale(1,1.045)" font-size="15.0" text-anchor="end">0.35</text>
<text transform="translate(478.00,113.80) scale(1,1.045)" font-size="15.0" text-anchor="end">0.4</text>
<text transform="translate(478.00,68.80) scale(1,1.045)" font-size="15.0" text-anchor="end">0.45</text>
<text transform="translate(478.00,23.80) scale(1,1.045)" font-size="15.0" text-anchor="end">0.5</text>
<g transform="translate(641.30,377.60) scale(1,1.045)">
<g transform="translate(-5.68,0) scale(0.01800,-0.01800)"><path d="M562,492 C545,410 490,320 430,235 C380,160 350,2 265,2 C145,2 66,100 66,240 C66,390 145,480 265,480 C350,480 385,330 430,235 C470,150 500,4 570,4 C600,4 614,40 622,98" fill="none" stroke="#000" stroke-width="52" stroke-linecap="butt"/><path d="M265,-22 C125,-22 40,100 40,240 C40,390 125,504 265,504 C185,462 150,380 150,240 C150,100 185,20 265,-22 Z" fill="#000"/></g>
</g>
<text transform="translate(426.70,176.50) rotate(-90) scale(1,1.045)" font-size="18.0" text-anchor="middle">g</text>
<text transform="translate(760.00,51.50) scale(1,1.045)" font-size="18.0" text-anchor="middle">(b)</text>
<text transform="translate(718.20,126.70) scale(1,1.045)" font-size="13.5" text-anchor="start">0.375</text>
<g transform="translate(718.20,182.80) scale(1,1.045)">
<text x="0.00" y="0" font-size="13.5">0.3</text>
<path d="M359,0 L271,0 L271,501 L101,501 L101,566 Q190,574 228,598 Q273,627 294,703 L359,703 Z" transform="translate(18.77,0) scale(0.01350,-0.01350)" fill="#000"/>
<text x="26.27" y="0" font-size="13.5">25</text>
</g>
</svg></body></html>
